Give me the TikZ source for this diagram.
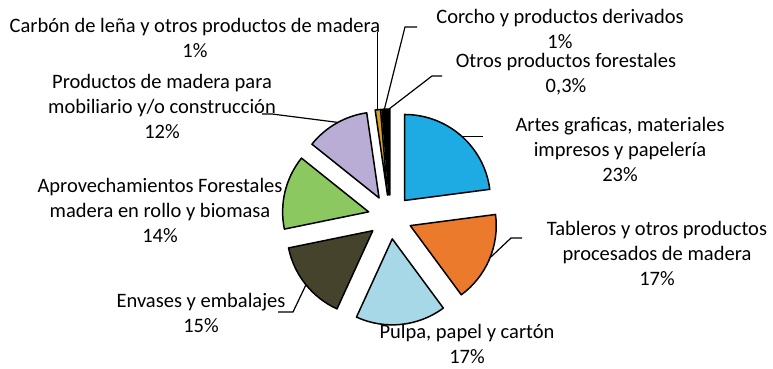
\documentclass[tikz,border=0pt]{standalone}
\usepackage{fontspec}
\setmainfont{Carlito}
\usetikzlibrary{calc}
\definecolor{cBlue}{HTML}{1EAAE2}
\definecolor{cOrange}{HTML}{EC7A2C}
\definecolor{cLight}{HTML}{A6D8E8}
\definecolor{cDark}{HTML}{45432B}
\definecolor{cGreen}{HTML}{8CC860}
\definecolor{cLav}{HTML}{B9ADD6}
\definecolor{cGold}{HTML}{D9A21E}
\newcommand\pieslice[3]{%
  \pgfmathsetmacro\midang{(#1+#2)/2}%
  \draw[slicestyle, fill=#3] ($(C)+(\midang:22)$) -- ++(#1:86) arc[start angle=#1, end angle=#2, radius=86] -- cycle;}
\begin{document}
\begin{tikzpicture}[x=1pt,y=1pt,
  slicestyle/.style={draw=black, line width=1.5pt, line join=round},
  leader/.style={draw=black, line width=1.2pt},
  lbl/.style={align=center, inner sep=0pt, font=\fontsize{20.5}{25}\selectfont}]
\useasboundingbox (0,0) rectangle (773,-369);
\coordinate (C) at (390,-217);
\pieslice{90}{7.45}{cBlue}
\pieslice{7.45}{-53.57}{cOrange}
\pieslice{-53.57}{-114.59}{cLight}
\pieslice{-114.59}{-168.43}{cDark}
\pieslice{-168.43}{-218.67}{cGreen}
\pieslice{141.33}{98.26}{cLav}
\pieslice{98.26}{94.67}{cGold}
\pieslice{94.67}{91.08}{black}
\pieslice{91.08}{90}{black}
% labels
\node[lbl] (carbon) at (195,-38) {Carbón de leña y otros productos de madera\\1\%};
\node[lbl] (corcho) at (560,-29) {Corcho y productos derivados\\1\%};
\node[lbl] (otros) at (566,-74) {Otros productos forestales\\0,3\%};
\node[lbl] (mob) at (162,-106) {Productos de madera para\\mobiliario y/o construcción\\12\%};
\node[lbl] (artes) at (620,-149) {Artes graficas, materiales\\impresos y papelería\\23\%};
\node[lbl] (tabl) at (657,-253) {Tableros y otros productos\\procesados de madera\\17\%};
\node[lbl] (aprov) at (160,-210) {Aprovechamientos Forestales\\madera en rollo y biomasa\\14\%};
\node[lbl] (env) at (201,-313) {Envases y embalajes\\15\%};
\node[lbl] (pulpa) at (467,-344) {Pulpa, papel y cartón\\17\%};
% leader anchors (start points lie on the slice arcs)
\coordinate (pCarbA) at ($(C)+(96.47:22)+(96.8:86)$); \coordinate (pCarbB) at (pCarbA |- 0,-32);
\coordinate (pCorA) at ($(C)+(92.88:22)+(93:86)$); \coordinate (pCorB) at (405,-27); \coordinate (pCorC) at (417,-27);
\coordinate (pOtA) at ($(C)+(90.54:22)+(90.5:86)$); \coordinate (pOtB) at (432,-76); \coordinate (pOtC) at (442,-76);
\coordinate (pArA) at ($(C)+(48.73:22)+(48:86)$); \coordinate (pArB) at (483,0);
\coordinate (pTaA) at ($(C)+(-23.06:22)+(-22:86)$); \coordinate (pTaB) at (511,-238); \coordinate (pTaC) at (522,-238);
\coordinate (pEnA) at ($(C)+(-141.51:22)+(-141:86)$); \coordinate (pEnB) at (293,-312); \coordinate (pEnC) at (278,-312);
\coordinate (pMoA) at ($(C)+(119.8:22)+(118.6:86)$); \coordinate (pMoB) at (272,-114); \coordinate (pMoC) at (262,-114);
\draw[leader] (pCarbA) -- (pCarbB);
\draw[leader] (pCorA) -- (pCorB) -- (pCorC);
\draw[leader] (pOtA) -- (pOtB) -- (pOtC);
\draw[leader] (pArA) -- (pArA -| pArB);
\draw[leader] (pTaA) -- (pTaB) -- (pTaC);
\draw[leader] (pEnA) -- (pEnB) -- (pEnC);
\draw[leader] (pMoA) -- (pMoB) -- (pMoC);
\end{tikzpicture}
\end{document}
